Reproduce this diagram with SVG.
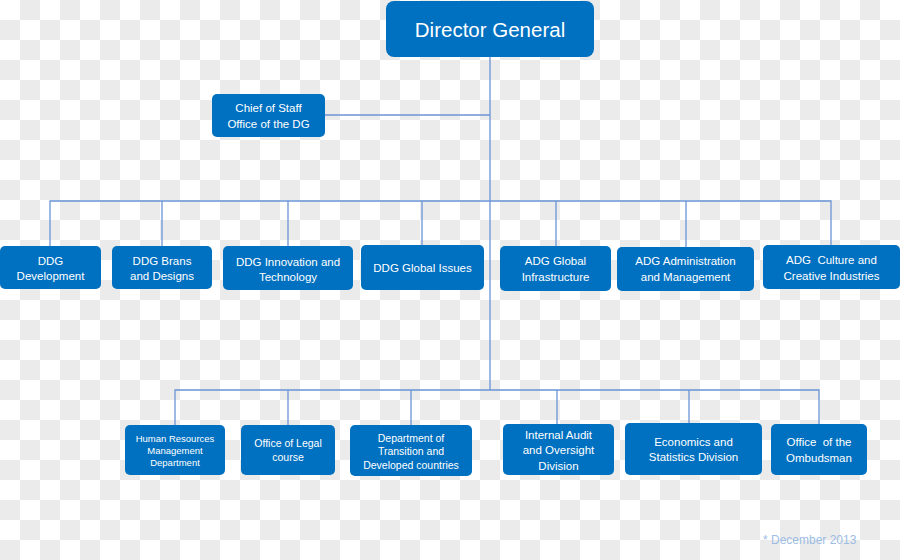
<svg xmlns="http://www.w3.org/2000/svg" width="900" height="560" viewBox="0 0 900 560">
<defs>
<pattern id="chk" width="40" height="40" patternUnits="userSpaceOnUse">
<rect width="40" height="40" fill="#ffffff"/>
<rect x="20" y="0" width="20" height="20" fill="#ebebeb"/>
<rect x="0" y="20" width="20" height="20" fill="#ebebeb"/>
</pattern>
</defs>
<style>
.box{fill:#0070c0;}
.t{fill:#ffffff;font-family:"Liberation Sans",Arial,sans-serif;text-anchor:middle;}
.s12{font-size:11.5px;}
.s11{font-size:10.5px;}
.s10{font-size:9.5px;}
.c{stroke:#6b94d6;stroke-width:1.3;fill:none;}
</style>
<rect width="900" height="560" fill="url(#chk)"/>
<g id="connectors">
<path class="c" d="M490 57 V390"/>
<path class="c" d="M325 115 H490"/>
<path class="c" d="M50 246 V201 H831 V246"/>
<path class="c" d="M162 201 V246 M288 201 V246 M422 201 V245 M556 201 V246 M686 201 V247"/>
<path class="c" d="M175 425 V390 H819 V424"/>
<path class="c" d="M288 390 V425 M411 390 V425 M557 390 V424 M689 390 V423"/>
</g>
<g id="director-general">
<rect class="box" x="386" y="1" width="208" height="56" rx="8"/>
<text class="t" x="490" y="37" style="font-size:20.5px">Director General</text>
</g>
<g id="chief-of-staff">
<rect class="box" x="212" y="94" width="113" height="43" rx="5"/>
<text class="t s12" x="268.5" y="112">Chief of Staff</text>
<text class="t s12" x="268.5" y="128">Office of the DG</text>
</g>
<g id="ddg-development">
<rect class="box" x="0" y="246" width="101" height="43" rx="5"/>
<text class="t s12" x="50.5" y="265">DDG</text>
<text class="t s12" x="50.5" y="280">Development</text>
</g>
<g id="ddg-brans">
<rect class="box" x="112" y="246" width="100" height="43" rx="5"/>
<text class="t s12" x="162" y="265">DDG Brans</text>
<text class="t s12" x="162" y="280">and Designs</text>
</g>
<g id="ddg-innovation">
<rect class="box" x="223" y="246" width="130" height="44" rx="5"/>
<text class="t s12" x="288" y="266">DDG Innovation and</text>
<text class="t s12" x="288" y="281">Technology</text>
</g>
<g id="ddg-global-issues">
<rect class="box" x="361" y="245" width="123" height="45" rx="5"/>
<text class="t s12" x="422.5" y="272">DDG Global Issues</text>
</g>
<g id="adg-global-infrastructure">
<rect class="box" x="500" y="246" width="111" height="45" rx="5"/>
<text class="t s12" x="555.5" y="265">ADG Global</text>
<text class="t s12" x="555.5" y="281">Infrastructure</text>
</g>
<g id="adg-administration">
<rect class="box" x="617" y="247" width="137" height="44" rx="5"/>
<text class="t s12" x="685.5" y="265">ADG Administration</text>
<text class="t s12" x="685.5" y="281">and Management</text>
</g>
<g id="adg-culture">
<rect class="box" x="763" y="245" width="137" height="44" rx="5"/>
<text class="t s12" x="831.5" y="264">ADG&#160; Culture and</text>
<text class="t s12" x="831.5" y="280">Creative Industries</text>
</g>
<g id="hr">
<rect class="box" x="125" y="425" width="100" height="50" rx="5"/>
<text class="t s10" x="175" y="442">Human Resources</text>
<text class="t s10" x="175" y="454">Management</text>
<text class="t s10" x="175" y="466">Department</text>
</g>
<g id="legal">
<rect class="box" x="241" y="425" width="94" height="50" rx="5"/>
<text class="t s11" x="288" y="447">Office of Legal</text>
<text class="t s11" x="288" y="461">course</text>
</g>
<g id="transition">
<rect class="box" x="350" y="425" width="122" height="51" rx="5"/>
<text class="t s11" x="411" y="442">Department of</text>
<text class="t s11" x="411" y="455">Transition and</text>
<text class="t s11" x="411" y="469">Developed countries</text>
</g>
<g id="audit">
<rect class="box" x="503" y="424" width="111" height="51" rx="5"/>
<text class="t s12" x="558.5" y="439">Internal Audit</text>
<text class="t s12" x="558.5" y="454">and Oversight</text>
<text class="t s12" x="558.5" y="470">Division</text>
</g>
<g id="economics">
<rect class="box" x="625" y="423" width="137" height="52" rx="5"/>
<text class="t s12" x="693.5" y="446">Economics and</text>
<text class="t s12" x="693.5" y="461">Statistics Division</text>
</g>
<g id="ombudsman">
<rect class="box" x="771" y="424" width="96" height="51" rx="5"/>
<text class="t s12" x="819" y="446">Office&#160; of the</text>
<text class="t s12" x="819" y="462">Ombudsman</text>
</g>
<text x="763" y="544" style="font-family:'Liberation Sans',Arial,sans-serif;font-size:12px;fill:#9cbce3">* December 2013</text>
</svg>
